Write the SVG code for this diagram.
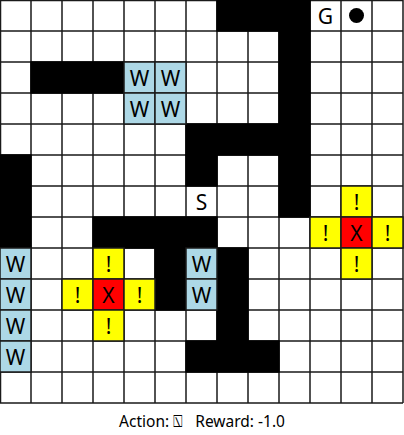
<svg xmlns="http://www.w3.org/2000/svg" width="404" height="435" viewBox="0 0 404 435">
<defs>
<style>
.c{fill:#fff;stroke:#1a1a1a;stroke-width:1.5}
.b{fill:#000;stroke:#000;stroke-width:1.5}
.w{fill:#add8e6;stroke:#1a1a1a;stroke-width:1.5}
.y{fill:#ffff00;stroke:#1a1a1a;stroke-width:1.5}
.r{fill:#ff0000;stroke:#1a1a1a;stroke-width:1.5}
.t{font-family:"Noto Sans","DejaVu Sans",sans-serif;font-size:21px;fill:#000;text-anchor:middle;dominant-baseline:central}
.cap{font-family:"Noto Sans","DejaVu Sans",sans-serif;font-size:15.5px;fill:#000;text-anchor:middle;white-space:pre}
</style>
</defs>
<rect width="404" height="435" fill="#fff"/>
<g id="grid">
<path d="M0 0h403v403H0z" fill="#fff"/>
<g stroke="#1a1a1a" stroke-width="1.5">
<path d="M0.5 0V403M31 0V403M62 0V403M93 0V403M124 0V403M155 0V403M186 0V403M217 0V403M248 0V403M279 0V403M310 0V403M341 0V403M372 0V403M403 0V403"/>
<path d="M0 0.5H403M0 31H403M0 62H403M0 93H403M0 124H403M0 155H403M0 186H403M0 217H403M0 248H403M0 279H403M0 310H403M0 341H403M0 372H403M0 403H403"/>
</g>
</g>
<g id="walls">
<rect class="b" x="217" y="0" width="93" height="31"/>
<rect class="b" x="279" y="31" width="31" height="93"/>
<rect class="b" x="31" y="62" width="93" height="31"/>
<rect class="b" x="186" y="124" width="124" height="31"/>
<rect class="b" x="186" y="155" width="31" height="31"/>
<rect class="b" x="279" y="155" width="31" height="62"/>
<rect class="b" x="0" y="155" width="31" height="93"/>
<rect class="b" x="93" y="217" width="124" height="31"/>
<rect class="b" x="155" y="248" width="31" height="62"/>
<rect class="b" x="217" y="248" width="31" height="93"/>
<rect class="b" x="186" y="341" width="93" height="31"/>
</g>
<g id="water">
<g id="w1"><rect class="w" x="124" y="62" width="31" height="31"/><text class="t" x="139.5" y="77.5">W</text></g>
<g id="w2"><rect class="w" x="155" y="62" width="31" height="31"/><text class="t" x="170.5" y="77.5">W</text></g>
<g id="w3"><rect class="w" x="124" y="93" width="31" height="31"/><text class="t" x="139.5" y="108.5">W</text></g>
<g id="w4"><rect class="w" x="155" y="93" width="31" height="31"/><text class="t" x="170.5" y="108.5">W</text></g>
<g id="w5"><rect class="w" x="0" y="248" width="31" height="31"/><text class="t" x="15.5" y="263.5">W</text></g>
<g id="w6"><rect class="w" x="0" y="279" width="31" height="31"/><text class="t" x="15.5" y="294.5">W</text></g>
<g id="w7"><rect class="w" x="0" y="310" width="31" height="31"/><text class="t" x="15.5" y="325.5">W</text></g>
<g id="w8"><rect class="w" x="0" y="341" width="31" height="31"/><text class="t" x="15.5" y="356.5">W</text></g>
<g id="w9"><rect class="w" x="186" y="248" width="31" height="31"/><text class="t" x="201.5" y="263.5">W</text></g>
<g id="w10"><rect class="w" x="186" y="279" width="31" height="31"/><text class="t" x="201.5" y="294.5">W</text></g>
</g>
<g id="goal"><text class="t" x="325.5" y="15.5">G</text></g>
<g id="agent"><circle cx="356.5" cy="15.5" r="7.5" fill="#000"/></g>
<g id="start"><text class="t" x="201.5" y="201.5">S</text></g>
<g id="hazard1">
<rect class="y" x="93" y="248" width="31" height="31"/><text class="t" x="108.5" y="263.5">!</text>
<rect class="y" x="62" y="279" width="31" height="31"/><text class="t" x="77.5" y="294.5">!</text>
<rect class="r" x="93" y="279" width="31" height="31"/><text class="t" x="108.5" y="294.5">X</text>
<rect class="y" x="124" y="279" width="31" height="31"/><text class="t" x="139.5" y="294.5">!</text>
<rect class="y" x="93" y="310" width="31" height="31"/><text class="t" x="108.5" y="325.5">!</text>
</g>
<g id="hazard2">
<rect class="y" x="341" y="186" width="31" height="31"/><text class="t" x="356.5" y="201.5">!</text>
<rect class="y" x="310" y="217" width="31" height="31"/><text class="t" x="325.5" y="232.5">!</text>
<rect class="r" x="341" y="217" width="31" height="31"/><text class="t" x="356.5" y="232.5">X</text>
<rect class="y" x="372" y="217" width="31" height="31"/><text class="t" x="387.5" y="232.5">!</text>
<rect class="y" x="341" y="248" width="31" height="31"/><text class="t" x="356.5" y="263.5">!</text>
</g>
<g id="connectors"></g>
<g id="status"><text class="cap" x="202" y="427">Action: ⍂   Reward: -1.0</text></g>
</svg>
